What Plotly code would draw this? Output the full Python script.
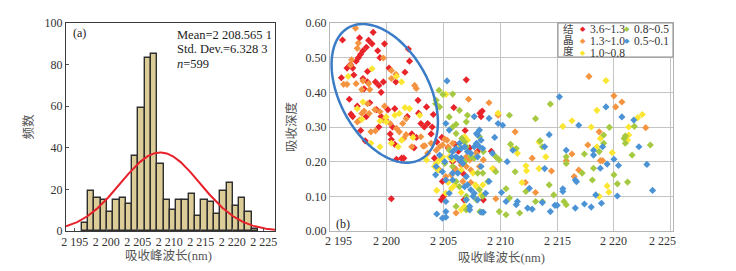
import numpy as np
import plotly.graph_objects as go

# ---------------- (a) histogram data ----------------
bin_start = 2196.1
bin_width = 1.0
counts = [4, 19, 16, 15, 9, 15, 16, 13, 36, 59, 83, 85, 32, 15, 10, 15, 15, 18, 7, 15,
          14, 8, 19, 23, 12, 16, 9, 1]
fit_mean = 2208.5651
fit_std = 6.3283
fit_n = 599

x_tickvals = [2195, 2200, 2205, 2210, 2215, 2220, 2225]
x_ticktext = ["2 195", "2 200", "2 205", "2 210", "2 215", "2 220", "2 225"]
ya_tickvals = [0, 20, 40, 60, 80, 100]
yb_tickvals = [0.0, 0.1, 0.2, 0.3, 0.4, 0.5, 0.6]
yb_ticktext = ["0.00", "0.10", "0.20", "0.30", "0.40", "0.50", "0.60"]

# ---------------- (b) scatter data (wavelength nm, depth) ----------------
red_pts = [
    (2196.1, 0.551), (2197.0, 0.47), (2197.3, 0.49), (2197.5, 0.50), (2197.7, 0.51),
    (2197.9, 0.52), (2198.2, 0.53), (2198.4, 0.55), (2198.7, 0.54), (2198.8, 0.573),
    (2199.2, 0.52), (2199.4, 0.50), (2199.8, 0.54), (2197.6, 0.557), (2196.8, 0.48),
    (2196.5, 0.47), (2197.1, 0.45), (2197.9, 0.44), (2198.3, 0.43), (2199.0, 0.43),
    (2199.3, 0.42), (2199.7, 0.43), (2200.2, 0.47), (2200.8, 0.43), (2201.6, 0.458),
    (2202.0, 0.49), (2201.9, 0.525), (2198.3, 0.46), (2198.0, 0.41), (2199.5, 0.40),
    (2198.5, 0.37), (2199.1, 0.35), (2199.5, 0.33), (2200.1, 0.35), (2200.5, 0.30),
    (2197.4, 0.36), (2198.2, 0.33), (2197.0, 0.33), (2196.7, 0.38), (2197.7, 0.29),
    (2198.1, 0.26), (2199.3, 0.30), (2199.9, 0.32), (2200.3, 0.28), (2200.4, 0.264),
    (2200.7, 0.25), (2200.85, 0.207), (2201.3, 0.21), (2201.5, 0.21), (2200.7, 0.353),
    (2201.8, 0.33), (2202.2, 0.28), (2202.6, 0.27), (2202.75, 0.377), (2202.8, 0.34),
    (2203.0, 0.31), (2203.3, 0.30), (2203.6, 0.31), (2203.5, 0.358), (2204.0, 0.30),
    (2202.4, 0.24), (2203.9, 0.28), (2204.1, 0.336), (2204.4, 0.257), (2200.4, 0.093),
    (2207.0, 0.436), (2205.9, 0.356), (2208.4, 0.346), (2208.2, 0.34), (2204.2, 0.21),
    (2204.8, 0.09), (2205.0, 0.10), (2204.9, 0.143), (2205.4, 0.24), (2204.85, 0.27),
    (2206.0, 0.25), (2206.3, 0.23), (2206.5, 0.20), (2206.6, 0.17), (2206.9, 0.16),
    (2206.9, 0.29), (2207.3, 0.24), (2208.0, 0.23), (2208.5, 0.09), (2209.2, 0.23),
    (2209.4, 0.178), (2206.8, 0.09), (2205.8, 0.20), (2206.0, 0.18), (2208.3, 0.33),
    (2196.0, 0.442), (2196.85, 0.337),
]
orange_pts = [
    (2197.25, 0.585), (2197.5, 0.542), (2197.4, 0.527), (2196.9, 0.494), (2196.8, 0.478),
    (2196.2, 0.423), (2196.5, 0.423), (2197.3, 0.425), (2197.9, 0.433), (2198.4, 0.425),
    (2197.8, 0.408), (2198.5, 0.408), (2198.3, 0.367), (2198.0, 0.346), (2198.45, 0.339),
    (2198.95, 0.350), (2199.4, 0.344), (2199.8, 0.360), (2199.7, 0.320), (2199.7, 0.499),
    (2200.4, 0.463), (2200.8, 0.452), (2200.4, 0.440), (2202.6, 0.411), (2202.45, 0.420),
    (2201.7, 0.324), (2201.4, 0.310), (2201.5, 0.267), (2201.7, 0.278), (2200.85, 0.296),
    (2201.1, 0.286), (2203.0, 0.272), (2203.2, 0.245), (2203.35, 0.246), (2202.2, 0.243),
    (2197.4, 0.315), (2197.6, 0.320), (2197.8, 0.339), (2198.6, 0.286), (2199.0, 0.289),
    (2200.3, 0.310), (2207.2, 0.380), (2209.0, 0.370), (2209.8, 0.334), (2211.3, 0.286),
    (2217.8, 0.446), (2220.0, 0.390), (2220.7, 0.372), (2220.15, 0.358), (2222.8, 0.298),
    (2218.7, 0.286), (2217.7, 0.248), (2216.3, 0.222), (2216.5, 0.157), (2216.9, 0.176),
    (2215.8, 0.203), (2214.5, 0.173), (2218.8, 0.203), (2219.0, 0.203), (2212.8, 0.210),
    (2212.2, 0.140), (2213.1, 0.111), (2209.6, 0.093), (2206.1, 0.052), (2205.1, 0.265),
    (2205.3, 0.262), (2205.4, 0.243), (2204.9, 0.248), (2205.8, 0.253), (2205.95, 0.233),
    (2204.35, 0.233), (2204.65, 0.243), (2207.0, 0.214), (2207.3, 0.205), (2207.4, 0.176),
    (2207.0, 0.186), (2206.55, 0.190), (2206.1, 0.176), (2206.7, 0.143), (2207.4, 0.140),
    (2205.2, 0.157), (2205.7, 0.162), (2204.65, 0.176), (2208.16, 0.186), (2208.5, 0.205),
    (2207.9, 0.224), (2203.6, 0.224), (2203.9, 0.253),
]
yellow_pts = [
    (2196.6, 0.446), (2198.7, 0.468), (2197.9, 0.372), (2197.4, 0.353), (2197.8, 0.322),
    (2198.6, 0.253), (2199.4, 0.243), (2199.4, 0.317), (2199.95, 0.315), (2200.7, 0.334),
    (2200.85, 0.446), (2201.3, 0.430), (2201.6, 0.356), (2202.0, 0.353), (2201.1, 0.339),
    (2199.95, 0.329), (2200.4, 0.253), (2201.3, 0.262), (2201.0, 0.243), (2202.3, 0.270),
    (2203.5, 0.205), (2202.9, 0.334), (2205.2, 0.394), (2209.8, 0.340), (2204.4, 0.117),
    (2204.35, 0.195), (2205.7, 0.123), (2205.2, 0.109), (2206.55, 0.111), (2206.85, 0.071),
    (2207.8, 0.133), (2208.45, 0.133), (2209.3, 0.180), (2211.1, 0.238), (2211.5, 0.224),
    (2212.25, 0.188), (2212.3, 0.174), (2211.9, 0.140), (2213.4, 0.257), (2213.4, 0.180),
    (2214.0, 0.214), (2215.5, 0.302), (2216.3, 0.318), (2218.0, 0.300), (2218.5, 0.348),
    (2219.3, 0.434), (2218.8, 0.267), (2218.5, 0.243), (2219.4, 0.130), (2219.55, 0.112),
    (2219.85, 0.226), (2221.3, 0.300), (2221.3, 0.277), (2221.2, 0.262), (2222.5, 0.336),
    (2222.1, 0.327), (2218.7, 0.100), (2204.2, 0.186), (2204.5, 0.176), (2204.65, 0.205),
    (2204.9, 0.214), (2206.4, 0.243), (2206.85, 0.272), (2207.1, 0.262), (2205.5, 0.214),
    (2205.8, 0.205), (2205.4, 0.140), (2206.0, 0.133), (2206.55, 0.176), (2207.6, 0.167),
    (2207.9, 0.128), (2208.3, 0.104), (2207.0, 0.090), (2206.55, 0.061),
]
green_pts = [
    (2204.6, 0.406), (2204.95, 0.394), (2204.3, 0.367), (2205.8, 0.395), (2206.4, 0.348),
    (2207.1, 0.334), (2207.0, 0.315), (2206.1, 0.308), (2206.85, 0.257), (2208.16, 0.272),
    (2208.5, 0.229), (2209.6, 0.214), (2209.9, 0.205), (2210.8, 0.334), (2210.9, 0.250),
    (2211.4, 0.238), (2211.3, 0.171), (2211.7, 0.052), (2212.25, 0.114), (2213.1, 0.324),
    (2213.7, 0.243), (2213.5, 0.260), (2214.4, 0.366), (2214.3, 0.133), (2213.7, 0.085),
    (2213.1, 0.085), (2214.7, 0.104), (2215.6, 0.085), (2215.8, 0.076), (2215.8, 0.214),
    (2215.8, 0.195), (2217.4, 0.222), (2217.2, 0.167), (2218.2, 0.181), (2218.1, 0.147),
    (2218.7, 0.229), (2219.1, 0.253), (2219.6, 0.299), (2219.1, 0.277), (2220.0, 0.162),
    (2220.3, 0.136), (2221.2, 0.141), (2221.0, 0.253), (2220.9, 0.267), (2221.0, 0.274),
    (2221.6, 0.219), (2221.8, 0.302), (2223.2, 0.248), (2209.9, 0.056), (2210.5, 0.047),
    (2210.5, 0.122), (2210.8, 0.095), (2208.2, 0.056), (2208.45, 0.054), (2207.0, 0.061),
    (2206.1, 0.071), (2204.35, 0.377), (2204.65, 0.358), (2205.5, 0.329), (2205.8, 0.300),
    (2206.1, 0.281), (2206.6, 0.267), (2207.0, 0.243), (2207.4, 0.214), (2207.7, 0.210),
    (2208.0, 0.167), (2206.85, 0.200), (2205.5, 0.233), (2205.1, 0.195), (2205.8, 0.186),
    (2206.1, 0.143), (2206.4, 0.128), (2207.0, 0.100), (2208.16, 0.119), (2208.45, 0.167),
    (2208.9, 0.143), (2209.6, 0.171), (2207.9, 0.090), (2208.45, 0.100),
]
blue_pts = [
    (2205.3, 0.433), (2205.2, 0.310), (2205.5, 0.291), (2206.4, 0.253), (2206.1, 0.238),
    (2206.55, 0.238), (2206.85, 0.243), (2207.1, 0.229), (2207.4, 0.224), (2207.7, 0.243),
    (2207.9, 0.253), (2208.0, 0.214), (2208.16, 0.291), (2208.0, 0.277), (2208.3, 0.262),
    (2207.9, 0.281), (2207.7, 0.330), (2209.0, 0.325), (2209.8, 0.310), (2210.2, 0.305),
    (2209.5, 0.270), (2209.3, 0.224), (2211.1, 0.233), (2210.6, 0.200), (2210.1, 0.111),
    (2209.0, 0.143), (2208.3, 0.186), (2204.65, 0.219), (2205.1, 0.200), (2204.9, 0.171),
    (2205.2, 0.147), (2205.5, 0.109), (2205.2, 0.085), (2204.4, 0.049), (2204.9, 0.037),
    (2205.2, 0.040), (2205.2, 0.056), (2207.0, 0.090), (2207.3, 0.071), (2207.3, 0.061),
    (2207.6, 0.100), (2208.0, 0.090), (2208.3, 0.054), (2208.5, 0.054), (2208.7, 0.109),
    (2210.5, 0.085), (2211.4, 0.076), (2211.5, 0.085), (2212.4, 0.066), (2212.8, 0.063),
    (2212.55, 0.123), (2213.7, 0.082), (2213.9, 0.180), (2213.9, 0.243), (2214.3, 0.278),
    (2215.2, 0.387), (2214.8, 0.074), (2215.0, 0.074), (2214.4, 0.056), (2215.5, 0.114),
    (2215.5, 0.122), (2215.8, 0.233), (2216.6, 0.147), (2216.7, 0.142), (2216.9, 0.305),
    (2216.6, 0.066), (2217.4, 0.078), (2218.0, 0.069), (2218.4, 0.104), (2218.2, 0.219),
    (2218.2, 0.233), (2219.0, 0.243), (2218.8, 0.181), (2219.4, 0.193), (2219.3, 0.358),
    (2218.9, 0.080), (2220.0, 0.207), (2220.4, 0.189), (2220.3, 0.101), (2220.7, 0.329),
    (2221.75, 0.320), (2222.2, 0.243), (2222.9, 0.192), (2223.4, 0.117), (2205.8, 0.229),
    (2206.1, 0.214), (2205.7, 0.214), (2206.4, 0.205), (2206.7, 0.195), (2205.8, 0.167),
    (2206.25, 0.167), (2207.0, 0.157), (2207.1, 0.133), (2207.4, 0.119), (2207.7, 0.109),
    (2205.8, 0.147), (2206.85, 0.128), (2206.55, 0.210), (2208.16, 0.243), (2208.45, 0.238),
    (2204.35, 0.186), (2204.3, 0.162),
]

series = [
    ("3.6~1.3", red_pts, "#e8242a"),
    ("1.3~1.0", orange_pts, "#f59440"),
    ("1.0~0.8", yellow_pts, "#fbe632"),
    ("0.8~0.5", green_pts, "#a5c940"),
    ("0.5~0.1", blue_pts, "#4c93d6"),
]

# ellipse outline (center, half-extent, correlation) in data units
ell_cx, ell_cy = 2199.82, 0.397
ell_sx, ell_sy, ell_rho = 4.68, 0.200, -0.4156

SERIF = "'Liberation Serif', 'Times New Roman', 'DejaVu Serif', 'Noto Sans CJK SC', serif"
W, H = 736, 271


def px(xp):
    return xp / W


def py(yp):
    return (H - yp) / H


fig = go.Figure()

# ---- panel (a)
centers = [bin_start + bin_width * (i + 0.5) for i in range(len(counts))]
fig.add_trace(go.Bar(
    x=centers, y=counts, width=bin_width,
    marker=dict(color="#dccd98", line=dict(color="#2e2e2e", width=1.4)),
    xaxis="x", yaxis="y", showlegend=False,
))
xs = np.linspace(2193.6, 2226.8, 300)
ys = fit_n * bin_width / (fit_std * np.sqrt(2 * np.pi)) * np.exp(-0.5 * ((xs - fit_mean) / fit_std) ** 2)
fig.add_trace(go.Scatter(x=xs, y=ys, mode="lines", line=dict(color="#e8202a", width=2),
                         xaxis="x", yaxis="y", showlegend=False))

# ---- panel (b)
for name, pts, col in series:
    fig.add_trace(go.Scatter(
        x=[p[0] for p in pts], y=[p[1] for p in pts], mode="markers", name=name,
        marker=dict(symbol="diamond", size=5.5, color=col, line=dict(width=0)),
        xaxis="x2", yaxis="y2", showlegend=False,
    ))

t = np.linspace(0, 2 * np.pi, 200)
ex = ell_cx + ell_sx * np.cos(t)
ey = ell_cy + ell_sy * (ell_rho * np.cos(t) + np.sqrt(1 - ell_rho ** 2) * np.sin(t))
path = "M " + " L ".join(f"{a:.4f},{b:.5f}" for a, b in zip(ex, ey)) + " Z"

shapes = [
    dict(type="path", path=path, xref="x2", yref="y2", line=dict(color="#3a7cc6", width=2.5)),
    dict(type="rect", xref="paper", yref="paper", x0=px(558), x1=px(673), y0=py(57), y1=py(23),
         fillcolor="white", line=dict(color="#8a8a8a", width=1), layer="above"),
]

annotations = []
# panel (a) texts
annotations.append(dict(text="(a)", x=px(71), y=py(33), xref="paper", yref="paper",
                        xanchor="left", yanchor="middle", showarrow=False,
                        font=dict(family=SERIF, size=12, color="#222")))
for i, line in enumerate(["Mean=2 208.565 1", "Std. Dev.=6.328 3", "<i>n</i>=599"]):
    annotations.append(dict(text=line, x=px(175), y=py(34.5 + 14.5 * i), xref="paper", yref="paper",
                            xanchor="left", yanchor="middle", showarrow=False,
                            font=dict(family=SERIF, size=12.5, color="#222")))
annotations.append(dict(text="吸收峰波长(nm)", x=px(168), y=py(256), xref="paper", yref="paper",
                        xanchor="center", yanchor="middle", showarrow=False,
                        font=dict(family=SERIF, size=12.5, color="#555")))
# panel (b) texts
annotations.append(dict(text="(b)", x=px(334), y=py(224), xref="paper", yref="paper",
                        xanchor="left", yanchor="middle", showarrow=False,
                        font=dict(family=SERIF, size=12, color="#222")))
for v, txt in zip(x_tickvals, x_ticktext):
    shift = 8 if v == x_tickvals[0] else (-8 if v == x_tickvals[-1] else 0)
    annotations.append(dict(text=txt, x=v, y=py(241), xref="x2", yref="paper", xshift=shift,
                            xanchor="center", yanchor="middle", showarrow=False,
                            font=dict(family=SERIF, size=12, color="#333")))
# legend
for i, ch in enumerate(["结", "晶", "度"]):
    annotations.append(dict(text=ch, x=px(568), y=py(29.5 + 11 * i), xref="paper", yref="paper",
                            xanchor="center", yanchor="middle", showarrow=False,
                            font=dict(family=SERIF, size=10.5, color="#444")))
leg_pos = [(583, 29), (583, 41), (583, 52.5), (627, 29), (627, 41)]
for (name, pts, col), (lx, ly) in zip(series, leg_pos):
    annotations.append(dict(text="◆", x=px(lx), y=py(ly), xref="paper", yref="paper",
                            xanchor="center", yanchor="middle", showarrow=False,
                            font=dict(family="DejaVu Sans", size=7, color=col)))
    annotations.append(dict(text=name, x=px(lx + 5), y=py(ly), xref="paper", yref="paper",
                            xanchor="left", yanchor="middle", showarrow=False,
                            font=dict(family=SERIF, size=11.5, color="#333")))

fig.update_layout(
    width=W, height=H, margin=dict(l=0, r=0, t=0, b=0, autoexpand=False),
    paper_bgcolor="white", plot_bgcolor="white",
    font=dict(family=SERIF, size=12, color="#333"),
    bargap=0,
    xaxis=dict(domain=[px(66), px(275)], range=[2193.6, 2226.8], tickvals=x_tickvals,
               ticktext=x_ticktext, showline=True, mirror=True, linecolor="#3a3a3a", linewidth=1,
               ticks="inside", ticklen=3, tickcolor="#555", showgrid=False, zeroline=False,
               tickfont=dict(family=SERIF, size=12, color="#333"), automargin=False,
               anchor="y"),
    yaxis=dict(domain=[py(231), py(23)], range=[0, 100], tickvals=ya_tickvals,
               showline=True, mirror=True, linecolor="#3a3a3a", linewidth=1,
               ticks="inside", ticklen=3, tickcolor="#555", showgrid=False, zeroline=False,
               tickfont=dict(family=SERIF, size=12, color="#333"), automargin=False,
               title=dict(text="频数", font=dict(family=SERIF, size=12.5, color="#555"), standoff=8),
               anchor="x"),
    xaxis2=dict(domain=[px(330), px(673)], range=[2195, 2225.2], tickvals=x_tickvals,
                showticklabels=False, showline=True, mirror=True, linecolor="#b5b5b5", linewidth=1,
                showgrid=True, gridcolor="#c4c4c4", gridwidth=1, zeroline=False, ticks="",
                automargin=False,
                title=dict(text="吸收峰波长(nm)", font=dict(family=SERIF, size=12.5, color="#555"),
                           standoff=22),
                anchor="y2"),
    yaxis2=dict(domain=[py(231), py(23)], range=[0, 0.6], tickvals=yb_tickvals, ticktext=yb_ticktext,
                showline=True, mirror=True, linecolor="#b5b5b5", linewidth=1,
                showgrid=True, gridcolor="#c4c4c4", gridwidth=1, zeroline=False, ticks="",
                tickfont=dict(family=SERIF, size=12, color="#333"), automargin=False,
                title=dict(text="吸收深度", font=dict(family=SERIF, size=12.5, color="#555"), standoff=6),
                anchor="x2"),
    shapes=shapes, annotations=annotations,
)

fig.write_html("out.html", post_script="document.body.style.margin='0';",
               config={"displayModeBar": False})
